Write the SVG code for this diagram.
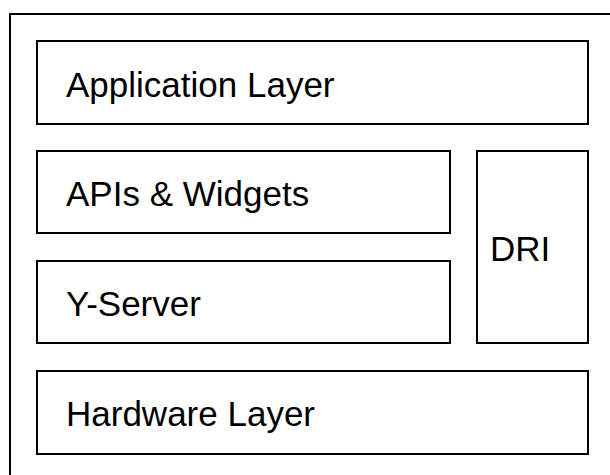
<svg xmlns="http://www.w3.org/2000/svg" width="610" height="475" viewBox="0 0 610 475">
<style>
.box{fill:#fff;stroke:#000;stroke-width:2}
.lbl{font-family:"Liberation Sans",Arial,sans-serif;font-size:35px;fill:#000}
</style>
<rect width="610" height="475" fill="#fff"/>
<rect x="10" y="14" width="620" height="480" fill="none" stroke="#000" stroke-width="2"/>
<g id="application"><rect class="box" x="37" y="41" width="551" height="83"/><text class="lbl" x="66" y="97">Application Layer</text></g>
<g id="apis"><rect class="box" x="37" y="151" width="413" height="82"/><text class="lbl" x="66" y="206">APIs &amp; Widgets</text></g>
<g id="yserver"><rect class="box" x="37" y="261" width="413" height="82"/><text class="lbl" x="66" y="316">Y-Server</text></g>
<g id="dri"><rect class="box" x="477" y="151" width="111" height="192"/><text class="lbl" x="490" y="261">DRI</text></g>
<g id="hardware"><rect class="box" x="37" y="371" width="551" height="83"/><text class="lbl" x="66" y="426">Hardware Layer</text></g>
<g id="connectors"/>
</svg>
